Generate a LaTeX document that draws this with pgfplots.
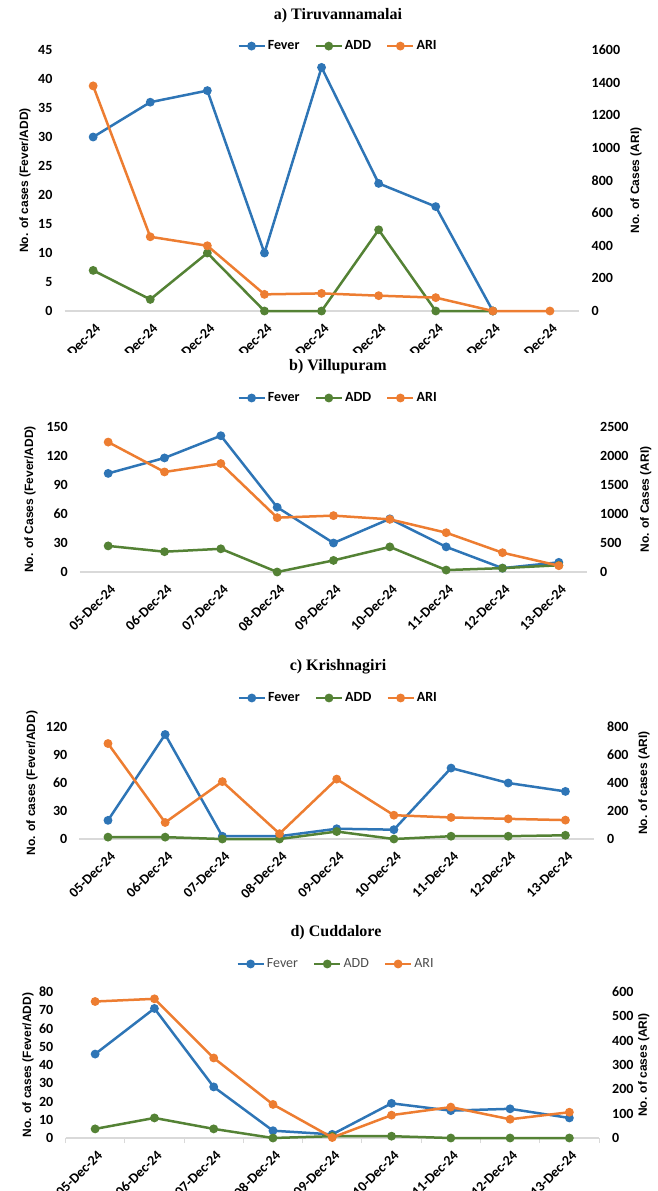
\documentclass[border=0pt]{standalone}
\usepackage{pgfplots}
\pgfplotsset{compat=1.18}
\usepackage{fontspec}
\setmainfont{Carlito}
\newfontfamily\titlefont{Liberation Serif}
\newfontfamily\labfont{Liberation Sans}

\definecolor{fever}{HTML}{2E75B6}
\definecolor{add}{HTML}{548235}
\definecolor{ari}{HTML}{ED7D31}
\definecolor{axisgray}{HTML}{D9D9D9}

\newcommand{\tickf}{\fontsize{14}{16}\selectfont\bfseries}
\newcommand{\labf}{\labfont\fontsize{12}{14}\selectfont\bfseries}

\pgfplotsset{
  panel/.style={
    scale only axis, clip=false,
    xmin=-0.5, xmax=8.5, ymin=0,
    major tick length=0pt,
    scaled y ticks=false,
    /pgf/number format/1000 sep={},
    /pgf/number format/assume math mode=true,
    yticklabel style={font=\tickf, inner sep=0pt},
  },
  leftax/.style={
    panel,
    axis x line*=bottom, axis y line*=left,
    y axis line style={draw=none},
    x axis line style={draw=axisgray, line width=1.3pt, -},
    xtick={0,...,8},
    xticklabels={05-Dec-24,06-Dec-24,07-Dec-24,08-Dec-24,09-Dec-24,10-Dec-24,11-Dec-24,12-Dec-24,13-Dec-24},
    xticklabel style={font=\tickf, inner sep=0pt, xshift=5pt, yshift=-15pt, rotate=45, anchor=east},
    yticklabel style={anchor=east, xshift=-12pt},
    ylabel style={font=\labf, anchor=center, rotate=0},
  },
  rightax/.style={
    panel,
    axis x line=none, axis y line*=right,
    y axis line style={draw=none},
    xtick=\empty,
    yticklabel style={anchor=west, xshift=13pt},
    ylabel style={font=\labf, anchor=center, rotate=0},
    legend columns=3,
    legend style={draw=none, fill=none, inner sep=0pt, font=\tickf,
      /tikz/every even column/.append style={column sep=13pt}},
    legend image code/.code={
      \draw[mark repeat=2, mark phase=2, #1] plot coordinates {(0pt,0pt) (13pt,0pt) (26pt,0pt)};
    },
  },
  ser/.style={line width=2.5pt, mark=*, mark size=3.1pt, mark options={solid, fill=#1}, color=#1},
}

\begin{document}
\begin{tikzpicture}
\useasboundingbox (0pt,0pt) rectangle (657pt,-1191pt);

% ---------------- a) Tiruvannamalai ----------------
\node[font=\titlefont\bfseries\fontsize{16}{18}\selectfont] at (338pt,-16pt) {a) Tiruvannamalai};
\begin{scope}
\clip (0pt,0pt) rectangle (657pt,-352pt);
\begin{axis}[leftax, at={(64.6pt,-311pt)}, anchor=south west,
    width=513.9pt, height=261pt, ymax=45, ytick={0,5,...,45},
    ylabel={No. of cases (Fever/ADD)},
    ylabel style={at={(axis description cs:-0.0771,0.5)}}]
  \addplot[ser=fever] coordinates {(0,30) (1,36) (2,38) (3,10) (4,42) (5,22) (6,18) (7,0)};
  \addplot[ser=add] coordinates {(0,7) (1,2) (2,10) (3,0) (4,0) (5,14) (6,0) (7,0)};
\end{axis}
\begin{axis}[rightax, at={(64.6pt,-311pt)}, anchor=south west,
    width=513.9pt, height=261pt, ymax=1600, ytick={0,200,...,1600},
    ylabel={No. of Cases (ARI)},
    ylabel style={at={(axis description cs:1.112,0.5)}},
    legend style={at={(axis description cs:0.532,1.015)}, anchor=center}]
  \addlegendimage{ser=fever}\addlegendentry{Fever}
  \addlegendimage{ser=add}\addlegendentry{ADD}
  \addplot[ser=ari] coordinates {(0,1380) (1,455) (2,400) (3,102) (4,108) (5,94) (6,82) (7,0) (8,0)};
  \addlegendentry{ARI}
\end{axis}
\end{scope}

% ---------------- b) Villupuram ----------------
\node[font=\titlefont\bfseries\fontsize{16}{18}\selectfont] at (338pt,-367pt) {b) Villupuram};
\begin{axis}[leftax, at={(80pt,-572pt)}, anchor=south west,
    width=507pt, height=145pt, ymax=150, ytick={0,30,...,150},
    ylabel={No. of Cases (Fever/ADD)},
    ylabel style={at={(axis description cs:-0.0986,0.5)}}]
  \addplot[ser=fever] coordinates {(0,102) (1,118) (2,141) (3,67) (4,30) (5,55) (6,26) (7,4) (8,10)};
  \addplot[ser=add] coordinates {(0,27) (1,21) (2,24) (3,0) (4,12) (5,26) (6,2) (7,4) (8,7)};
\end{axis}
\begin{axis}[rightax, at={(80pt,-572pt)}, anchor=south west,
    width=507pt, height=145pt, ymax=2500, ytick={0,500,...,2500},
    ylabel={No. of Cases (ARI)},
    ylabel style={at={(axis description cs:1.116,0.5)}},
    legend style={at={(axis description cs:0.509,1.2)}, anchor=center}]
  \addlegendimage{ser=fever}\addlegendentry{Fever}
  \addlegendimage{ser=add}\addlegendentry{ADD}
  \addplot[ser=ari] coordinates {(0,2240) (1,1725) (2,1870) (3,937) (4,972) (5,908) (6,678) (7,333) (8,109)};
  \addlegendentry{ARI}
\end{axis}

% ---------------- c) Krishnagiri ----------------
\node[font=\titlefont\bfseries\fontsize{16}{18}\selectfont] at (338pt,-667pt) {c) Krishnagiri};
\begin{axis}[leftax, at={(79.4pt,-839pt)}, anchor=south west,
    width=514.6pt, height=112pt, ymax=120, ytick={0,30,...,120},
    ylabel={No. of cases (Fever/ADD)},
    ylabel style={at={(axis description cs:-0.0921,0.5)}}]
  \addplot[ser=fever] coordinates {(0,20) (1,112) (2,3) (3,3) (4,11) (5,10) (6,76) (7,60) (8,51)};
  \addplot[ser=add] coordinates {(0,2) (1,2) (2,0) (3,0) (4,8) (5,0) (6,3) (7,3) (8,4)};
\end{axis}
\begin{axis}[rightax, at={(79.4pt,-839pt)}, anchor=south west,
    width=514.6pt, height=112pt, ymax=800, ytick={0,200,...,800},
    ylabel={No. of cases (ARI)},
    ylabel style={at={(axis description cs:1.097,0.5)}},
    legend style={at={(axis description cs:0.503,1.259)}, anchor=center}]
  \addlegendimage{ser=fever}\addlegendentry{Fever}
  \addlegendimage{ser=add}\addlegendentry{ADD}
  \addplot[ser=ari] coordinates {(0,682) (1,118) (2,410) (3,38) (4,428) (5,170) (6,154) (7,144) (8,135)};
  \addlegendentry{ARI}
\end{axis}

% ---------------- d) Cuddalore ----------------
\node[font=\titlefont\bfseries\fontsize{16}{18}\selectfont] at (336pt,-933pt) {d) Cuddalore};
\begin{axis}[leftax, at={(65.5pt,-1138pt)}, anchor=south west,
    width=533.5pt, height=146pt, ymax=80, ytick={0,10,...,80},
    ylabel={No. of cases (Fever/ADD)},
    ylabel style={at={(axis description cs:-0.0703,0.5)}},
    extra x ticks={-0.5,0.5,...,8.5}, extra x tick labels={},
    extra x tick style={major tick length=5pt, tick align=outside,
      tick style={draw=axisgray, line width=1pt}}]
  \addplot[ser=fever] coordinates {(0,46) (1,71) (2,28) (3,4) (4,2) (5,19) (6,15) (7,16) (8,11)};
  \addplot[ser=add] coordinates {(0,5) (1,11) (2,5) (3,0) (4,1) (5,1) (6,0) (7,0) (8,0)};
\end{axis}
\begin{axis}[rightax, at={(65.5pt,-1138pt)}, anchor=south west,
    width=533.5pt, height=146pt, ymax=600, ytick={0,100,...,600},
    ylabel={No. of cases (ARI)},
    ylabel style={at={(axis description cs:1.084,0.5)}},
    legend style={at={(axis description cs:0.507,1.192)}, anchor=center,
      font=\fontsize{14}{16}\selectfont\color{black!70}}]
  \addlegendimage{ser=fever}\addlegendentry{Fever}
  \addlegendimage{ser=add}\addlegendentry{ADD}
  \addplot[ser=ari] coordinates {(0,561) (1,572) (2,329) (3,138) (4,2) (5,94) (6,127) (7,77) (8,106)};
  \addlegendentry{ARI}
\end{axis}
\end{tikzpicture}
\end{document}
